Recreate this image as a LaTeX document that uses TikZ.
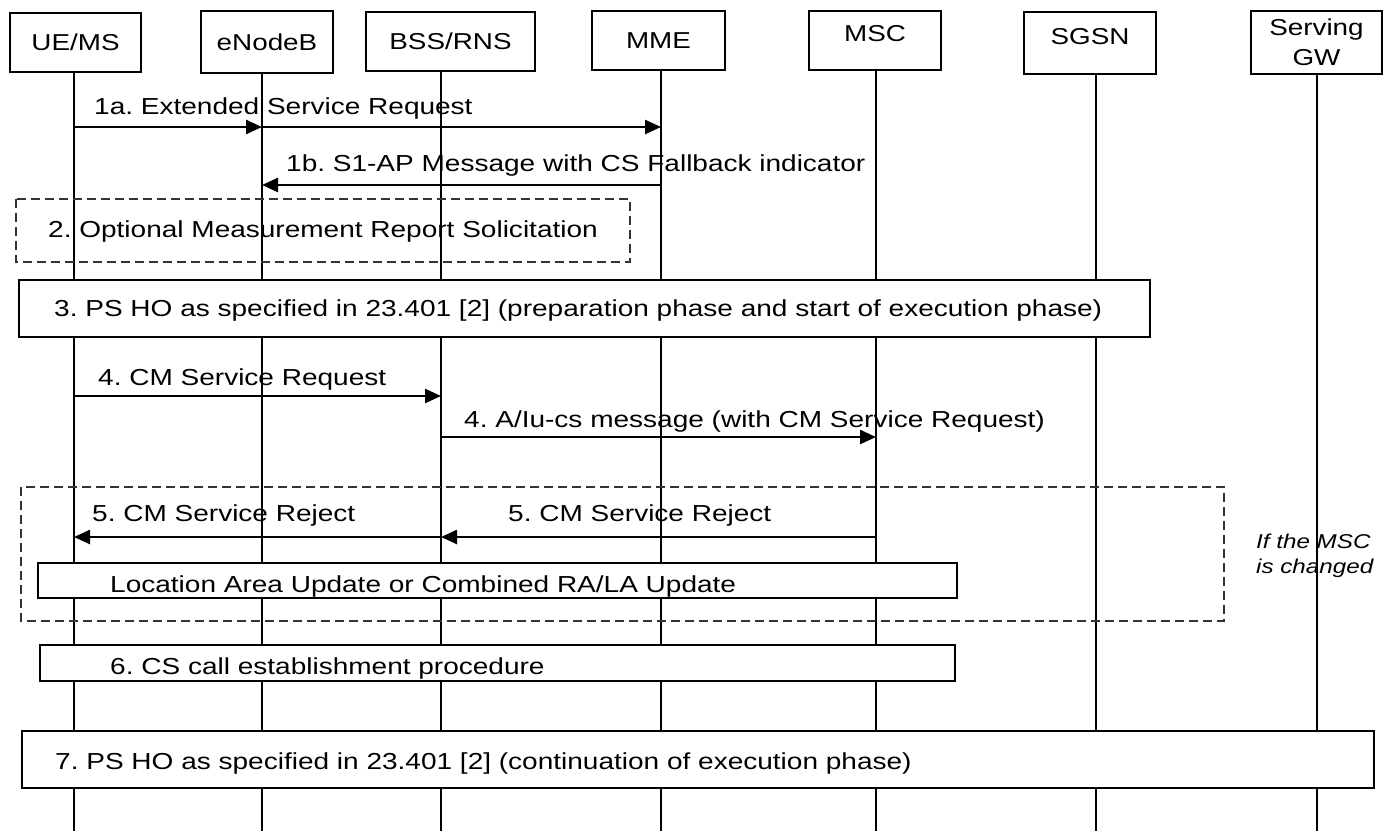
\documentclass[tikz,border=0pt]{standalone}
\usepackage{fontspec}
\setmainfont{Liberation Sans}[FakeStretch=1.21]
\usetikzlibrary{arrows.meta}
\frenchspacing

\begin{document}
\begin{tikzpicture}[x=1pt, y=-1pt,
head/.style={rectangle, draw=black, line width=2pt, inner sep=0pt, align=center, font=\fontsize{23}{30}\selectfont},
life/.style={black, line width=1.9pt},
msg/.style={black, line width=2.5pt, -{Triangle[length=16pt, width=14pt]}},
bar/.style={draw=black, fill=white, line width=2.2pt},
optbox/.style={draw=black!80, line width=1.6pt, dash pattern=on 9pt off 5pt},
txt/.style={anchor=base west, inner sep=0pt, font=\fontsize{23.15}{28}\selectfont},
note/.style={anchor=base west, inner sep=0pt, font=\fontsize{20}{25}\selectfont\itshape},]

	\useasboundingbox (0,0) rectangle (1383,831);

	\node (ue) [head, minimum width=131pt, minimum height=59pt] at (75.5,42.5) {UE/MS};
	\node (enb) [head, minimum width=132pt, minimum height=62pt] at (267,42) {eNodeB};
	\node (bss) [head, minimum width=169pt, minimum height=59pt] at (450.5,41.5) {BSS/RNS};
	\node (mme) [head, minimum width=133pt, minimum height=59pt] at (658.5,40.5) {MME};
	\node (msc) [head, minimum width=132pt, minimum height=59pt, text depth=14pt] at (875,40.5) {MSC};
	\node (sgsn) [head, minimum width=132pt, minimum height=62pt, text depth=14pt] at (1090,43) {SGSN};
	\node (sgw) [head, minimum width=131pt, minimum height=63pt] at (1316.5,42.5) {Serving\\GW};

	\foreach \n/\x in {ue/74, enb/262, bss/441, mme/661, msc/876, sgsn/1096, sgw/1317}
	{
		\coordinate (\n-b) at (\x,831);
		\draw[life] (\n-b |- \n.south) -- (\n-b);
	}

	\draw[optbox] (16,199) rectangle (630,262);
	\draw[optbox] (21,487) rectangle (1224,621);

	\draw[bar] (19,280) rectangle (1150,337);
	\draw[bar] (38,563) rectangle (957,598);
	\draw[bar] (40,645) rectangle (955,681);
	\draw[bar] (22,731) rectangle (1374,788);

	\coordinate (m1a) at (0,127);
	\coordinate (m1b) at (0,185);
	\coordinate (m4a) at (0,396);
	\coordinate (m4b) at (0,437);
	\coordinate (m5) at (0,537);

	\draw[msg] (ue-b |- m1a) -- (enb-b |- m1a);
	\draw[msg] (enb-b |- m1a) -- (mme-b |- m1a);
	\draw[msg] (mme-b |- m1b) -- (enb-b |- m1b);
	\draw[msg] (ue-b |- m4a) -- (bss-b |- m4a);
	\draw[msg] (bss-b |- m4b) -- (msc-b |- m4b);
	\draw[msg] (msc-b |- m5) -- (bss-b |- m5);
	\draw[msg] (bss-b |- m5) -- (ue-b |- m5);

	\node (t1a) [txt] at (94,114) {1a. Extended Service Request};
	\node (t1b) [txt] at (286,171) {1b. S1-AP Message with CS Fallback indicator};
	\node (t2) [txt] at (48,237) {2. Optional Measurement Report Solicitation};
	\node (t3) [txt] at (54,316) {3. PS HO as specified in 23.401 [2] (preparation phase and start of execution phase)};
	\node (t4a) [txt] at (98,385) {4. CM Service Request};
	\node (t4b) [txt] at (464,427) {4. A/Iu-cs message (with CM Service Request)};
	\node (t5a) [txt] at (92,521) {5. CM Service Reject};
	\node (t5b) [txt] at (508,521) {5. CM Service Reject};
	\node (tlau) [txt] at (110,592) {Location Area Update or Combined RA/LA Update};
	\node (t6) [txt] at (110,674) {6. CS call establishment procedure};
	\node (t7) [txt] at (55,769) {7. PS HO as specified in 23.401 [2] (continuation of execution phase)};
	\node (tif1) [note] at (1256,548) {If the MSC};
	\node (tif2) [note] at (1256,573) {is changed};

\end{tikzpicture}
\end{document}
